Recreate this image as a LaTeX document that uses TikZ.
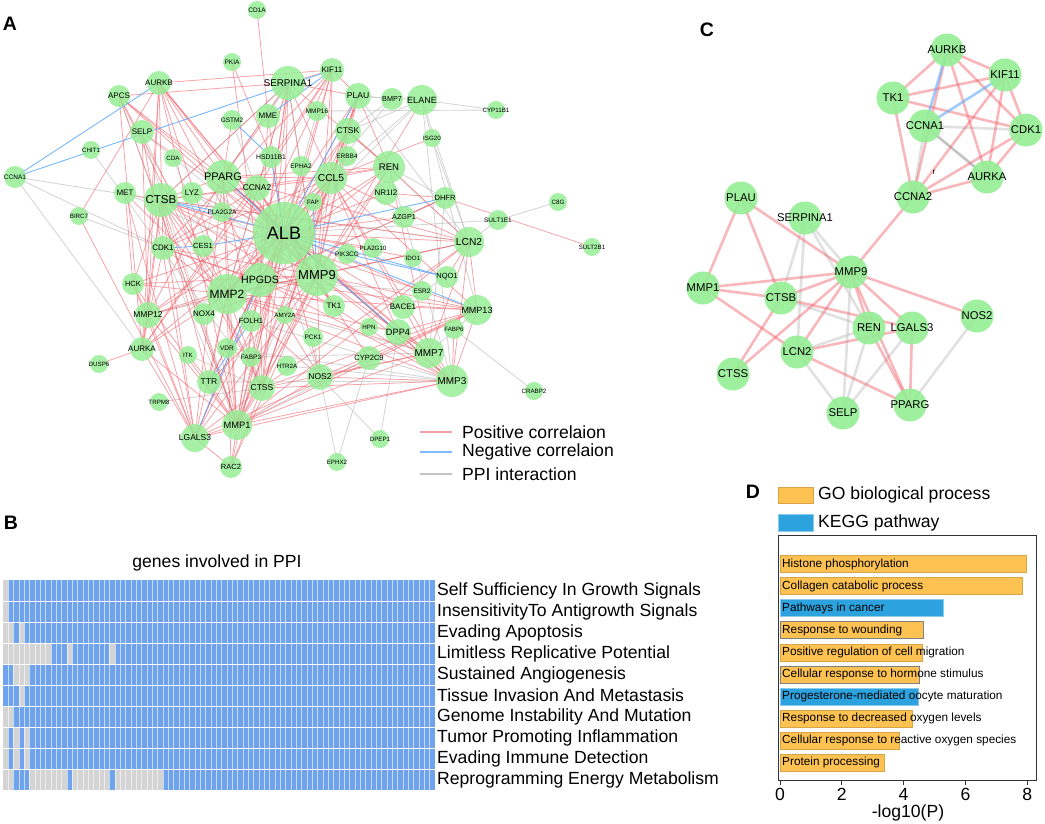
\documentclass[tikz,border=0pt]{standalone}
\usepackage{fontspec}
\setmainfont{Liberation Sans}

\pgfdeclarelayer{edges}
\pgfsetlayers{edges,main}

\definecolor{nodegreen}{RGB}{150,238,150}
\definecolor{posred}{RGB}{240,95,105}
\definecolor{negblue}{RGB}{95,170,250}
\definecolor{ppigray}{RGB}{195,195,195}
\definecolor{cellblue}{RGB}{112,163,237}
\definecolor{cellgray}{RGB}{212,212,212}
\definecolor{goorange}{RGB}{253,194,82}
\definecolor{keggblue}{RGB}{44,163,223}

\tikzset{
  gnode/.style={circle, fill=nodegreen, fill opacity=0.85, inner sep=0pt},
  cnode/.style={circle, fill=nodegreen, fill opacity=0.92, inner sep=0pt, minimum size=33},
  lab/.style={font=\fontsize{#1}{#1}\selectfont, inner sep=0pt, text=black},
  posedge/.style={draw=posred, line width=0.75pt, opacity=0.6},
  negedge/.style={draw=negblue, line width=0.9pt, opacity=0.85},
  ppiedge/.style={draw=ppigray, line width=0.85pt, opacity=0.7},
  cposedge/.style={draw=posred, line width=2.6pt, opacity=0.45},
  cnegedge/.style={draw=negblue, line width=2.6pt, opacity=0.6},
  cppiedge/.style={draw=ppigray, line width=2.6pt, opacity=0.5},
  plabel/.style={font=\fontsize{19.5}{20}\selectfont\bfseries, inner sep=0pt},
  bigtext/.style={font=\fontsize{17.6}{18}\selectfont, inner sep=0pt},
  rowlab/.style={bigtext, anchor=west},
  barlab/.style={font=\fontsize{11.8}{12}\selectfont, inner sep=0pt, anchor=west},
  gobar/.style={fill=goorange, draw=goorange!85!black, line width=0.3pt},
  gobarb/.style={fill=goorange, draw=gray, line width=1pt},
  keggbar/.style={fill=keggblue, draw=keggblue!55!white, line width=0.6pt}
}

% name/x/y/radius/fontsize
\def\genesA{CD1A/257/10/9/6.5, PKIA/232/62/9/6.5, SERPINA1/288/83/17/9.8,
  KIF11/332/70/12/8, AURKB/159/83/12/8, APCS/119/96/11/8, MME/268/116/12/8,
  MMP16/317/111/10/6.5, GSTM2/232/120/10/6.5, SELP/142/132/12/8,
  CHIT1/91/150/9/6.2, CDA/173/158/9/6.2, HSD11B1/271/157/11/6.8,
  EPHA2/301/166/10/6.5, CCNA1/15/177/11/6.5, PPARG/223/177/17/11,
  CCNA2/257/188/13/8.4, MET/125/193/11/8, CTSB/161/200/17/11.5,
  LYZ/192/193/11/8, FAP/313/202/9/6.2, BIRC7/79/216/9/6.2,
  PLA2G2A/222/212/10/6.5, ALB/284/233/31/18, CDK1/163/248/12/8,
  CES1/203/246/11/7.5, PLAU/358/96/13/8.6, BMP7/392/99/11/7.2,
  ELANE/422/100/15/9, CYP11B1/496/110/9/6.2, CTSK/348/131/13/8.5,
  ISG20/432/138/9/6.2, ERBB4/347/156/10/6.5, REN/389/167/16/9.6,
  CCL5/331/178/16/10.2, NR1I2/386/193/12/8, DHFR/445/198/11/7.5,
  C8G/558/202/9/6.2, SULT1E1/498/220/10/6.5, AZGP1/404/217/11/7.2,
  LCN2/469/242/15/10.2, SULT2B1/592/247/9/6.2, PLA2G10/373/248/10/6.2,
  MMP9/317/275/21/13, HPGDS/260/280/17/10.6, MMP2/227/294/20/12,
  PIK3CG/347/254/10/6.5, TK1/334/306/11/8, NOX4/204/314/11/8,
  FOLH1/251/321/11/7.5, AMY2A/285/315/9/6.2, HPN/369/327/9/6.2,
  PCK1/313/337/10/6.5, HCK/133/284/11/7.5, MMP12/148/315/13/8.5,
  AURKA/142/349/12/8, DUSP6/99/364/9/6.2, ITK/188/355/9/6.2,
  VDR/227/348/10/6.5, FABP3/251/357/10/6.5, HTR2A/287/366/10/6.2,
  NOS2/320/377/13/8.5, TTR/209/382/12/8.5, CTSS/262/388/13/8.5,
  TRPM8/159/402/9/6.2, MMP1/237/425/15/9.3, LGALS3/195/438/14/8.5,
  RAC2/231/467/11/7.5, IDO1/413/258/9/6.2, NQO1/447/277/11/7.5,
  ESR2/422/291/10/6.5, BACE1/403/307/12/8, MMP13/477/310/15/9,
  DPP4/398/332/13/9.2, FABP6/454/329/10/6.2, CYP2C9/369/358/12/7.5,
  MMP7/429/353/15/10, MMP3/452/381/16/10, CRABP2/534/391/9/6.2,
  DPEP1/380/439/9/6.2, EPHX2/337/462/9/6.2}

\begin{document}
\begin{tikzpicture}[x=1pt, y=-1pt]
\useasboundingbox (0,0) rectangle (1045,824);

% A: network
\node[plabel] (pA) at (10,24) {A};
\foreach \nm/\px/\py/\rad/\fs in \genesA
  \node[gnode, minimum size=2*\rad] (\nm) at (\px,\py) {};
\foreach \nm/\px/\py/\rad/\fs in \genesA
  \node[lab=\fs] (t\nm) at (\nm) {\nm};

\begin{pgfonlayer}{edges}
\foreach \a/\b in {CCNA1/CTSB, CCNA1/AURKA, CCNA1/CDK1, BIRC7/CDK1, CYP11B1/ELANE,
  CYP11B1/MMP16, ISG20/LCN2, ELANE/LCN2, ELANE/MMP3, ELANE/PLAU, ELANE/CTSK,
  ELANE/MMP13, ELANE/CCL5, ELANE/MMP2, BMP7/MMP2, BMP7/CTSK, BMP7/PLAU,
  C8G/SULT1E1, SULT1E1/LCN2, SULT1E1/ALB, CRABP2/FABP6, DPEP1/DPP4, DPEP1/NOS2,
  EPHX2/NOS2, EPHX2/CYP2C9, TRPM8/CTSS, SERPINA1/CTSB, SERPINA1/PPARG,
  SERPINA1/MMP2, SERPINA1/MME, SERPINA1/MMP9, SELP/CTSS, SELP/MMP1, SELP/MMP9,
  CDA/MMP2, CHIT1/CTSS, HTR2A/MMP3, VDR/MMP3, PCK1/NOS2, FABP3/MMP7, HPN/DPP4,
  ITK/CTSS, NQO1/ESR2, MMP7/MMP13, PLAU/LCN2, REN/DHFR, GSTM2/NOS2, APCS/MMP1,
  MMP16/ALB, CTSK/LCN2, LCN2/MMP9, REN/MMP3, DHFR/MMP7, DHFR/MMP2, FOLH1/MMP3,
  AMY2A/MMP7, CES1/PPARG, LYZ/MMP9, MET/MMP9, CDK1/MMP1, TTR/MMP3, CTSB/LCN2,
  PPARG/MMP3, HPGDS/ESR2, CYP2C9/MMP1, MMP12/MMP9, ERBB4/MMP1}
  \draw[ppiedge] (\a.center) -- (\b.center);
\foreach \b in {SERPINA1,KIF11,AURKB,APCS,MME,SELP,HSD11B1,EPHA2,CCNA2,MET,LYZ,
  FAP,PLAU,CTSK,ERBB4,REN,CCL5,NR1I2,AZGP1,LCN2,PLA2G10,HPGDS,MMP2,TK1,NOX4,
  FOLH1,HCK,MMP12,AURKA,VDR,FABP3,NOS2,TTR,CTSS,MMP1,LGALS3,IDO1,ESR2,BACE1,
  MMP7,MMP3,RAC2,CYP2C9}
  \draw[posedge] (ALB.center) -- (\b.center);
\foreach \b in {SERPINA1,PLAU,CTSK,REN,CCL5,LCN2,MMP2,HPGDS,CTSB,PPARG,MMP1,CTSS,
  LGALS3,MMP3,MMP7,MMP13,BACE1,NOS2,HCK,TTR,CDK1,TK1,CCNA2,NOX4,RAC2,AURKB,
  KIF11,APCS,ELANE}
  \draw[posedge] (MMP9.center) -- (\b.center);
\foreach \b in {SERPINA1,PLAU,CTSK,CCL5,REN,LCN2,CTSB,PPARG,MMP1,CTSS,LGALS3,MMP3,
  MMP7,MMP13,TTR,HCK,MMP12,AURKB,MET,CDK1,NOS2,DPP4,RAC2,APCS,KIF11,AURKA}
  \draw[posedge] (MMP2.center) -- (\b.center);
\foreach \b in {AURKB,SERPINA1,MME,CCL5,MMP1,CTSS,LGALS3,MMP3,TTR,MMP12,CDK1,NOS2,
  MMP13,DHFR,PKIA}
  \draw[posedge] (HPGDS.center) -- (\b.center);
\foreach \b in {SERPINA1,PPARG,CCL5,MMP1,CTSS,LGALS3,MMP3,MMP13,TTR,AURKA,REN,LCN2,
  HCK,MMP12,CES1}
  \draw[posedge] (CTSB.center) -- (\b.center);
\foreach \b in {SERPINA1,MME,CCL5,MMP1,CTSS,LGALS3,MMP3,MMP7,MMP12,REN,LCN2,APCS,
  AURKB,GSTM2,DPP4}
  \draw[posedge] (PPARG.center) -- (\b.center);
\foreach \b in {SERPINA1,PLAU,ISG20,MMP1,CTSS,LGALS3,MMP3,MMP7,MMP12,CTSK,REN,LCN2,
  CDK1,DPP4,KIF11,MMP13}
  \draw[posedge] (CCL5.center) -- (\b.center);
\foreach \b in {SERPINA1,PLAU,MMP3,MMP7,MMP13,CTSS,LGALS3,RAC2,TTR,MMP12,NOS2,LCN2,
  REN,AURKA,HCK,AURKB,APCS,KIF11}
  \draw[posedge] (MMP1.center) -- (\b.center);
\foreach \b in {MMP3,MMP7,MMP13,SERPINA1,CTSK,LCN2,RAC2,LGALS3,APCS,PLAU}
  \draw[posedge] (CTSS.center) -- (\b.center);
\foreach \b in {AURKA,MMP12,HCK,RAC2,MMP3,MET,SELP,MMP13}
  \draw[posedge] (LGALS3.center) -- (\b.center);
\foreach \a/\b in {MMP3/MMP7, MMP3/MMP13, MMP3/LCN2, MMP3/NOS2, MMP3/FABP6,
  LCN2/REN, LCN2/MMP13, LCN2/NQO1, LCN2/MMP7, REN/PLAU, REN/SERPINA1, REN/CTSK,
  REN/MMP7, CD1A/MME, PKIA/HSD11B1, AURKB/KIF11, APCS/SERPINA1, BIRC7/AURKB,
  BIRC7/LGALS3, DUSP6/AURKA, DHFR/SULT2B1, KIF11/SERPINA1, KIF11/PLAU,
  KIF11/CCNA2, KIF11/CDK1, KIF11/AURKA, AURKB/CDK1, AURKB/AURKA, AURKB/TK1,
  CDK1/AURKA, CDK1/TK1, CCNA2/AURKA, CCNA2/TK1, CCNA2/CDK1, MET/HCK, HCK/MMP12,
  MMP12/AURKA, NOS2/MMP13, NOS2/MMP7, MMP7/DPP4, MMP13/DPP4, MMP13/BACE1,
  SERPINA1/PLAU, PLAU/CTSK, APCS/AURKA, AURKB/MMP12, NR1I2/DHFR, AZGP1/DHFR,
  ITK/TTR, VDR/MMP1, SELP/MMP12}
  \draw[posedge] (\a.center) -- (\b.center);
\foreach \a/\b in {CCNA1/AURKB, CCNA1/KIF11, CTSB/ALB, PLA2G2A/CTSB, CDK1/CES1,
  CES1/ALB, HSD11B1/GSTM2, HSD11B1/ALB, KIF11/MME, ALB/NQO1, PIK3CG/NQO1,
  ALB/MMP13, ALB/DPP4, LGALS3/HPGDS, PLAU/ALB, ALB/DHFR, MMP9/FAP, PPARG/ALB,
  TTR/FOLH1}
  \draw[negedge] (\a.center) -- (\b.center);
\end{pgfonlayer}

\coordinate (lg1) at (420,432);
\coordinate (lg2) at (420,452);
\coordinate (lg3) at (420,474);
\draw[posred, line width=1.3pt, opacity=0.6] (lg1) -- ++(32,0);
\draw[negblue, line width=1.3pt, opacity=0.8] (lg2) -- ++(32,0);
\draw[ppigray, line width=1.3pt] (lg3) -- ++(32,0);
\node[bigtext, anchor=west] (lgpos) at (462,432) {Positive correlaion};
\node[bigtext, anchor=west] (lgneg) at (462,452) {Negative correlaion};
\node[bigtext, anchor=west] (lgppi) at (462,474) {PPI interaction};

% B: heatmap
\node[plabel] (pB) at (11,523) {B};
\node[bigtext] (htitle) at (217,563) {genes involved in PPI};
\fill[cellblue] (2.7,580) rectangle (435,790);
\foreach \r/\c in {0/0, 1/0, 2/0, 2/1, 2/3, 3/0, 3/1, 3/2, 3/3, 3/4, 3/5, 3/6,
  3/7, 3/8, 3/12, 3/20, 4/2, 4/3, 4/4, 5/3, 6/0, 6/1, 7/0, 7/2, 7/4, 8/0, 8/2,
  8/4, 9/0, 9/1}
  \fill[cellgray] ({2.7+5.337*\c},{580+21*\r}) rectangle ++(5.337,21);
\foreach \c in {5,...,11}
  \fill[cellgray] ({2.7+5.337*\c},769) rectangle ++(5.337,21);
\foreach \c in {13,...,19}
  \fill[cellgray] ({2.7+5.337*\c},769) rectangle ++(5.337,21);
\foreach \c in {21,...,29}
  \fill[cellgray] ({2.7+5.337*\c},769) rectangle ++(5.337,21);
\foreach \c in {1,...,80}
  \draw[white, line width=0.35pt, opacity=0.6] ({2.7+5.337*\c},580) -- ++(0,210);
\foreach \r in {1,...,9}
  \draw[white, line width=0.6pt] (2.7,{580+21*\r}) -- (435,{580+21*\r});
\foreach \t [count=\i from 0] in {Self Sufficiency In Growth Signals,
  InsensitivityTo Antigrowth Signals, Evading Apoptosis,
  Limitless Replicative Potential, Sustained Angiogenesis,
  Tissue Invasion And Metastasis, Genome Instability And Mutation,
  Tumor Promoting Inflammation, Evading Immune Detection,
  Reprogramming Energy Metabolism}
  \node[rowlab] (h\i) at (437,{590.5+21*\i}) {\t};

% C: sub-network
\node[plabel] (pC) at (707,30) {C};
\foreach \nm/\px/\py in {AURKB/947/50, KIF11/1005/75, TK1/893/98, CCNA1/925/126,
  CDK1/1026/130, AURKA/987/177, CCNA2/913/197, PLAU/741/198, SERPINA1/805/218,
  MMP9/851/272, MMP1/703/288, CTSB/781/298, NOS2/977/316, REN/869/328,
  LGALS3/912/328, LCN2/797/352, CTSS/733/374, PPARG/910/405, SELP/843/413}
  \node[cnode] (c-\nm) at (\px,\py) {};
\foreach \nm in {AURKB, KIF11, TK1, CCNA1, CDK1, AURKA, CCNA2, PLAU, SERPINA1,
  MMP9, MMP1, CTSB, NOS2, REN, LGALS3, LCN2, CTSS, PPARG, SELP}
  \node[lab=11.3] (tc-\nm) at (c-\nm) {\nm};
\node[lab=8] (cr) at (934,172) {r};

\begin{pgfonlayer}{edges}
\foreach \a/\b in {CCNA1/CDK1, CCNA1/CCNA2, SERPINA1/MMP9, SERPINA1/LCN2,
  SERPINA1/CTSB, SERPINA1/REN, MMP9/SELP, CTSB/REN, LCN2/REN, REN/SELP,
  LGALS3/SELP, NOS2/PPARG, LCN2/SELP}
  \draw[cppiedge] (c-\a.center) -- (c-\b.center);
\draw[cppiedge, ppigray!70!black] (c-CCNA1.center) -- (c-AURKA.center);
\foreach \a/\b in {AURKB/KIF11, AURKB/TK1, AURKB/CDK1, AURKB/AURKA, AURKB/CCNA2,
  KIF11/TK1, KIF11/CDK1, KIF11/AURKA, KIF11/CCNA2, TK1/CDK1, TK1/CCNA2,
  CDK1/AURKA, CDK1/CCNA2, AURKA/CCNA2, CCNA2/MMP9, PLAU/MMP1, PLAU/CTSB,
  PLAU/MMP9, MMP9/MMP1, MMP9/CTSB, MMP9/NOS2, MMP9/LGALS3, MMP9/REN, MMP9/LCN2,
  MMP9/CTSS, MMP9/PPARG, MMP1/CTSB, MMP1/LCN2, CTSB/CTSS, CTSB/LGALS3,
  LCN2/LGALS3, LCN2/PPARG, REN/PPARG, LGALS3/PPARG}
  \draw[cposedge] (c-\a.center) -- (c-\b.center);
\foreach \a/\b in {AURKB/CCNA1, KIF11/CCNA1}
  \draw[cnegedge] (c-\a.center) -- (c-\b.center);
\end{pgfonlayer}

% D: enrichment bars
\node[plabel] (pD) at (753,492) {D};
\filldraw[gobar] (778,487) rectangle (813,503);
\filldraw[keggbar] (778,514) rectangle (813,531);
\node[bigtext, anchor=west] (lggo) at (818,495) {GO biological process};
\node[bigtext, anchor=west] (lgkegg) at (818,523) {KEGG pathway};
\draw[black!80, line width=0.8pt] (778,535) rectangle (1036,780);
\foreach \t/\v/\s [count=\i from 0] in {Histone phosphorylation/7.95/gobar,
  Collagen catabolic process/7.83/gobar, Pathways in cancer/5.3/keggbar,
  Response to wounding/4.63/gobarb, Positive regulation of cell migration/4.6/gobar,
  Cellular response to hormone stimulus/4.5/gobarb,
  Progesterone-mediated oocyte maturation/4.47/keggbar,
  Response to decreased oxygen levels/4.27/gobar,
  Cellular response to reactive oxygen species/3.85/gobar,
  Protein processing/3.37/gobar}
  {
  \filldraw[\s] (780,{555.5+22.1*\i}) rectangle ({780+30.9*\v},{572.5+22.1*\i});
  \node[barlab] (bar\i) at (782,{564+22.1*\i}) {\t};
  }
\foreach \v in {0,2,4,6,8}
  {
  \draw[black!80, line width=0.8pt] ({780+30.9*\v},780) -- ++(0,5);
  \node[bigtext] (tick\v) at ({780+30.9*\v},794) {\v};
  }
\node[bigtext] (xlab) at (908,812.5) {-log10(P)};
\end{tikzpicture}
\end{document}
